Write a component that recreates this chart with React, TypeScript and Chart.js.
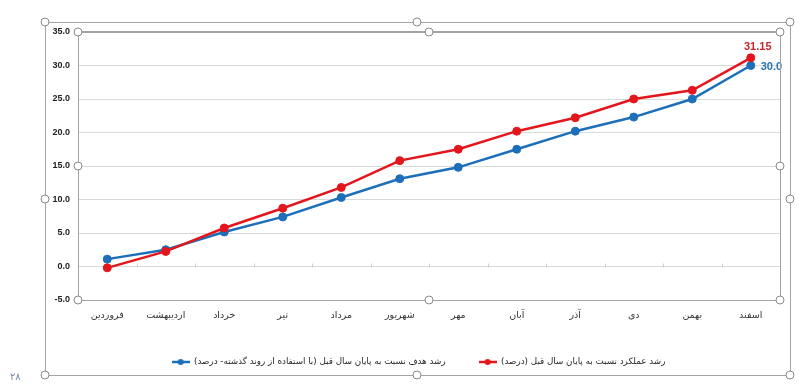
import React, { useEffect, useRef } from "react";
import { Chart, registerables } from "chart.js";

Chart.register(...registerables);

// ---- data ----
const months = [
  "فروردین",
  "اردیبهشت",
  "خرداد",
  "تیر",
  "مرداد",
  "شهریور",
  "مهر",
  "آبان",
  "آذر",
  "دی",
  "بهمن",
  "اسفند",
];
const performanceValues = [-0.2, 2.25, 5.75, 8.7, 11.8, 15.8, 17.5, 20.2, 22.2, 25.0, 26.3, 31.15];
const targetValues = [1.1, 2.5, 5.15, 7.4, 10.3, 13.1, 14.8, 17.5, 20.2, 22.3, 25.0, 30.0];
const performanceLabel = "رشد عملکرد نسبت به پایان سال قبل (درصد)";
const targetLabel = "رشد هدف نسبت به پایان سال قبل (با استفاده از روند گذشته- درصد)";
const yMin = -5;
const yMax = 35;
const yStep = 5;
const pageNumber = "۲۸";

const RED = "#e3161d";
const BLUE = "#1c6fb8";
const RED_TEXT = "#c3262b";
const BLUE_TEXT = "#2470b0";
const FRAME = "#a3a3a3";
const PERSIAN_FONT = '"DejaVu Sans", sans-serif';
const NUM_FONT = '"Liberation Sans", Arial, sans-serif';
const RLM = "\u200F";

function makeLegendMarker(color: string): HTMLCanvasElement {
  const c = document.createElement("canvas");
  c.width = 18;
  c.height = 8;
  const g = c.getContext("2d")!;
  g.strokeStyle = color;
  g.lineWidth = 2.5;
  g.beginPath();
  g.moveTo(0, 4);
  g.lineTo(18, 4);
  g.stroke();
  g.fillStyle = color;
  g.beginPath();
  g.arc(9, 4, 3, 0, Math.PI * 2);
  g.fill();
  return c;
}

// small category-boundary tick marks on the zero line (category axis crosses at 0)
const zeroTicksPlugin = {
  id: "zeroTicks",
  beforeDatasetsDraw(chart: any) {
    const ctx = chart.ctx as CanvasRenderingContext2D;
    const xs = chart.scales.x;
    const ys = chart.scales.y;
    const y0 = Math.round(ys.getPixelForValue(0)) + 0.5;
    ctx.save();
    ctx.strokeStyle = "#d0d0d0";
    ctx.lineWidth = 1;
    ctx.beginPath();
    for (let i = 1; i < months.length; i++) {
      const x = Math.round((xs.getPixelForValue(i - 1) + xs.getPixelForValue(i)) / 2) + 0.5;
      ctx.moveTo(x, y0 - 4);
      ctx.lineTo(x, y0);
    }
    ctx.stroke();
    ctx.restore();
  },
};

const valueLabelsPlugin = {
  id: "valueLabels",
  afterDatasetsDraw(chart: any) {
    const ctx = chart.ctx;
    ctx.save();
    ctx.font = `bold 11px ${NUM_FONT}`;
    const m0 = chart.getDatasetMeta(0);
    const p0 = m0.data[m0.data.length - 1];
    ctx.fillStyle = RED_TEXT;
    ctx.textAlign = "center";
    ctx.textBaseline = "middle";
    ctx.fillText(String(performanceValues[performanceValues.length - 1]), p0.x + 7, p0.y - 10.5);
    const m1 = chart.getDatasetMeta(1);
    const p1 = m1.data[m1.data.length - 1];
    ctx.fillStyle = BLUE_TEXT;
    ctx.textAlign = "left";
    ctx.fillText(targetValues[targetValues.length - 1].toFixed(1), p1.x + 10, p1.y + 1);
    ctx.restore();
  },
};

function drawHandle(ctx: CanvasRenderingContext2D, x: number, y: number) {
  ctx.beginPath();
  ctx.arc(x, y, 4, 0, Math.PI * 2);
  ctx.fillStyle = "#ffffff";
  ctx.fill();
  ctx.lineWidth = 1;
  ctx.strokeStyle = "#8a8a8a";
  ctx.stroke();
}

const framePlugin = {
  id: "frame",
  afterLayout(chart: any) {
    if (chart.legend) {
      chart.legend.left += 6;
      chart.legend.right += 6;
    }
  },
  afterDraw(chart: any) {
    const ctx = chart.ctx as CanvasRenderingContext2D;
    const { left, right, top, bottom } = chart.chartArea;
    ctx.save();
    const oL = 45, oT = 22, oR = 790, oB = 375;
    ctx.strokeStyle = FRAME;
    ctx.lineWidth = 1;
    ctx.strokeRect(oL + 0.5, oT + 0.5, oR - oL, oB - oT);
    ctx.strokeRect(Math.round(left) + 0.5, Math.round(top) + 0.5, Math.round(right - left), Math.round(bottom - top));
    ctx.lineWidth = 2;
    ctx.beginPath();
    ctx.moveTo(left, top);
    ctx.lineTo(right, top);
    ctx.stroke();
    const midX = 429;
    const midY = (top + bottom) / 2;
    [
      [left, top], [midX, top], [right, top],
      [left, midY], [right, midY],
      [left, bottom], [midX, bottom], [right, bottom],
    ].forEach(([x, y]) => drawHandle(ctx, x, y));
    const oMidX = 417;
    const oMidY = 199;
    [
      [oL, oT], [oMidX, oT], [oR, oT],
      [oL, oMidY], [oR, oMidY],
      [oL, oB], [oMidX, oB], [oR, oB],
    ].forEach(([x, y]) => drawHandle(ctx, x, y));
    ctx.restore();
  },
};

export default function App() {
  const canvasRef = useRef<HTMLCanvasElement | null>(null);

  useEffect(() => {
    if (!canvasRef.current) return;
    const markers = [makeLegendMarker(RED), makeLegendMarker(BLUE)];
    const chart = new Chart(canvasRef.current, {
      type: "line",
      data: {
        labels: months,
        datasets: [
          {
            label: performanceLabel,
            data: performanceValues,
            borderColor: RED,
            backgroundColor: RED,
            pointBackgroundColor: RED,
            pointBorderColor: RED,
            borderWidth: 2.5,
            pointRadius: 4,
            pointBorderWidth: 1,
            tension: 0,
            fill: false,
          },
          {
            label: targetLabel,
            data: targetValues,
            borderColor: BLUE,
            backgroundColor: BLUE,
            pointBackgroundColor: BLUE,
            pointBorderColor: BLUE,
            borderWidth: 2.5,
            pointRadius: 4,
            pointBorderWidth: 1,
            tension: 0,
            fill: false,
          },
        ],
      },
      options: {
        responsive: false,
        animation: false,
        layout: { padding: { left: 45, right: 19, top: 32, bottom: 20.4 } },
        scales: {
          x: {
            offset: true,
            grid: { display: false, drawTicks: false },
            border: { display: false },
            ticks: {
              padding: 10,
              color: "#333333",
              font: { family: PERSIAN_FONT, size: 9.5 },
              maxRotation: 0,
              autoSkip: false,
            },
            afterFit(scale: any) {
              scale.height = 24.6;
            },
          },
          y: {
            min: yMin,
            max: yMax,
            grid: { color: "#d9d9d9", drawTicks: false, lineWidth: 1 },
            border: { display: false },
            ticks: {
              stepSize: yStep,
              padding: 8,
              color: "#222222",
              font: { family: NUM_FONT, size: 9, weight: "bold" },
              callback: (v: any) => Number(v).toFixed(1),
            },
            afterFit(scale: any) {
              scale.width = 33;
            },
          },
        },
        plugins: {
          legend: {
            position: "bottom",
            maxHeight: 46,
            labels: {
              usePointStyle: true,
              pointStyleWidth: 18,
              padding: 33,
              color: "#262626",
              font: { family: PERSIAN_FONT, size: 8.75 },
              sort: (a: any, b: any) => b.datasetIndex - a.datasetIndex,
              generateLabels: (ch: any) => {
                const items = Chart.defaults.plugins.legend.labels.generateLabels(ch);
                return items.map((it: any) => ({
                  ...it,
                  text: RLM + it.text + RLM,
                  pointStyle: markers[it.datasetIndex],
                }));
              },
            },
          },
          tooltip: { enabled: false },
        },
      } as any,
      plugins: [zeroTicksPlugin, valueLabelsPlugin, framePlugin],
    });
    return () => chart.destroy();
  }, []);

  return (
    <div style={{ position: "absolute", left: 0, top: 0, width: 799, height: 391, background: "#ffffff" }}>
      <canvas ref={canvasRef} width={799} height={391} style={{ display: "block" }} />
      <div
        style={{
          position: "absolute",
          left: 10,
          top: 371,
          fontFamily: PERSIAN_FONT,
          fontSize: 10,
          color: "#7d8ea6",
        }}
      >
        {pageNumber}
      </div>
    </div>
  );
}
